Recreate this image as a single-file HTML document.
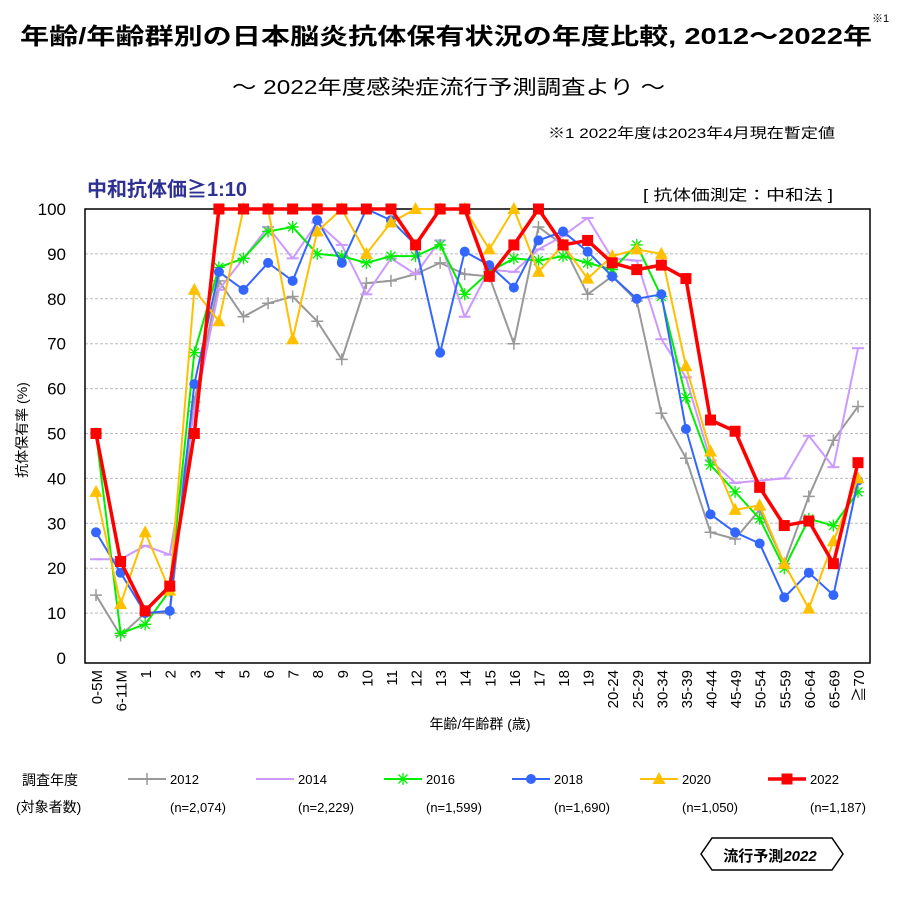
<!DOCTYPE html>
<html><head><meta charset="utf-8">
<style>
body{margin:0;background:#fff;}
svg text{font-family:"Liberation Sans","Noto Sans CJK JP",sans-serif;}
</style></head>
<body>
<svg id="c" width="898" height="901" xmlns="http://www.w3.org/2000/svg">
<text x="20" y="44" font-size="23" font-weight="bold" textLength="852" lengthAdjust="spacingAndGlyphs">年齢/年齢群別の日本脳炎抗体保有状況の年度比較, 2012～2022年</text>
<text x="872" y="22" font-size="11">※1</text>
<text x="232" y="94" font-size="20" textLength="433" lengthAdjust="spacingAndGlyphs">～ 2022年度感染症流行予測調査より ～</text>
<text x="548" y="138" font-size="14" textLength="287" lengthAdjust="spacingAndGlyphs">※1  2022年度は2023年4月現在暫定値</text>
<text x="87" y="196" font-size="20" font-weight="bold" fill="#2e3192">中和抗体価≧1:10</text>
<text x="643" y="200" font-size="15" textLength="190" lengthAdjust="spacingAndGlyphs">[ 抗体価測定：中和法 ]</text>
<g id="grid"></g>
<g id="axes"></g>
<g id="series"></g>
<text transform="translate(27,430) rotate(-90)" text-anchor="middle" font-size="14">抗体保有率 (%)</text>
<text x="480" y="729" text-anchor="middle" font-size="14">年齢/年齢群 (歳)</text>
<text x="22" y="785" font-size="14">調査年度</text>
<text x="16" y="812" font-size="14">(対象者数)</text>
<g id="legend"></g>
<g>
<polygon points="712,838 832,838 843,854 832,870 712,870 701,854" fill="#fff" stroke="#000" stroke-width="1.5"/>
<text x="770" y="861" text-anchor="middle" font-size="15" font-weight="bold">流行予測<tspan font-style="italic">2022</tspan></text>
</g>
</svg>
<script>
const categories=["0-5M","6-11M","1","2","3","4","5","6","7","8","9","10","11","12","13","14","15","16","17","18","19","20-24","25-29","30-34","35-39","40-44","45-49","50-54","55-59","60-64","65-69","≧70"];
const yTicks=[0,10,20,30,40,50,60,70,80,90,100];
const years=["2012","2014","2016","2018","2020","2022"];
const nLabels=["(n=2,074)","(n=2,229)","(n=1,599)","(n=1,690)","(n=1,050)","(n=1,187)"];
const s2012=[14,5,10,10,57,84,76,79,80.5,75,66.5,83.5,84,85.5,88,85.5,85,70,96,92,81,85,79.5,54.5,44.5,28,26.5,33,21,36,48.5,56];
const s2014=[22,22,25,23,55,82,89,96,89,97,92,81,89,85.5,93,76,86.5,86,91,94,98,89,88.5,71,62.5,44,39,39.5,40,49.5,42.5,69];
const s2016=[50,5.5,7.5,15,68,87,89,95,96,90,89.5,88,89.5,89.5,92,81,86,89,88.5,89.5,88,86.5,92,80.5,58,43,37,31,20,31,29.5,37];
const s2018=[28,19,10,10.5,61,86,82,88,84,97.5,88,100,97.5,92,68,90.5,87.5,82.5,93,95,90.5,85,80,81,51,32,28,25.5,13.5,19,14,39.5];
const s2020=[37,12,28,15,82,75,100,100,71,95,100,90,97,100,100,100,91,100,86,92,84.5,89.5,91,90,65,46,33,34,21,11,26,40];
const s2022=[50,21.5,10.5,16,50,100,100,100,100,100,100,100,100,92,100,100,85,92,100,92,93,88,86.5,87.5,84.5,53,50.5,38,29.5,30.5,21,43.5];

const NS="http://www.w3.org/2000/svg";
const L=85,R=870,T=209,B=663;
const x0=96,x1=858;
const xS=i=>x0+(x1-x0)*i/(categories.length-1);
const yS=v=>658-v*4.49;
function mk(tag,attrs,parent){const e=document.createElementNS(NS,tag);for(const k in attrs)e.setAttribute(k,attrs[k]);parent.appendChild(e);return e;}
const grid=document.getElementById('grid'),axes=document.getElementById('axes'),ser=document.getElementById('series'),leg=document.getElementById('legend');
yTicks.forEach(v=>{
  if(v>0&&v<100){const g=mk('line',{x1:L,x2:R,y1:yS(v),y2:yS(v),stroke:'#bbb','stroke-dasharray':'3,2','stroke-width':1},grid);
  
  }
  const t=mk('text',{x:66,y:yS(v)+6,'text-anchor':'end','font-size':17},axes);t.textContent=v;
  
  
});
const box=mk('rect',{x:L,y:T,width:R-L,height:B-T,fill:'none',stroke:'#000','stroke-width':1.5},axes);


categories.forEach((c,i)=>{
  const t=mk('text',{transform:`translate(${xS(i)+6},670) rotate(-90)`,'text-anchor':'end','font-size':15},axes);t.textContent=c;
  
  
});
const cfg=[
 {d:s2012,c:'#999999',w:2,m:'plus'},
 {d:s2014,c:'#cc99ff',w:2,m:'dash'},
 {d:s2016,c:'#00ee00',w:2,m:'star'},
 {d:s2018,c:'#3366ff',w:2,m:'circle'},
 {d:s2020,c:'#ffc000',w:2,m:'tri'},
 {d:s2022,c:'#ff0000',w:3.5,m:'square'}];
function marker(g,m,x,y,c){
  if(m==='plus'){mk('path',{d:`M${x-6},${y}h12M${x},${y-6}v12`,stroke:c,'stroke-width':1.5},g);}
  else if(m==='dash'){mk('path',{d:`M${x-6},${y}h12`,stroke:c,'stroke-width':2},g);}
  else if(m==='star'){mk('path',{d:`M${x-6},${y}h12M${x},${y-6}v12M${x-4.5},${y-4.5}l9,9M${x-4.5},${y+4.5}l9,-9`,stroke:c,'stroke-width':1.3},g);}
  else if(m==='circle'){mk('circle',{cx:x,cy:y,r:5,fill:c},g);}
  else if(m==='tri'){mk('polygon',{points:`${x},${y-7} ${x+6.5},${y+5} ${x-6.5},${y+5}`,fill:c},g);}
  else {mk('rect',{x:x-5.5,y:y-5.5,width:11,height:11,fill:c},g);}
}
cfg.forEach((s,k)=>{
  const g=mk('g',{},ser);
  
  
  const p=mk('polyline',{points:s.d.map((v,i)=>xS(i)+','+yS(v)).join(' '),fill:'none',stroke:s.c,'stroke-width':s.w,'stroke-linejoin':'round'},g);
  
  
  s.d.forEach((v,i)=>marker(g,s.m,xS(i),yS(v),s.c));
  const lx=128+k*128;
  const lg=mk('g',{},leg);
  
  
  mk('line',{x1:lx,x2:lx+38,y1:779,y2:779,stroke:s.c,'stroke-width':s.w},lg);
  marker(lg,s.m,lx+19,779,s.c);
  const t=mk('text',{x:lx+42,y:784,'font-size':13},lg);t.textContent=years[k];
  const n=mk('text',{x:lx+42,y:812,'font-size':13},lg);n.textContent=nLabels[k];
});
</script>
</body></html>
